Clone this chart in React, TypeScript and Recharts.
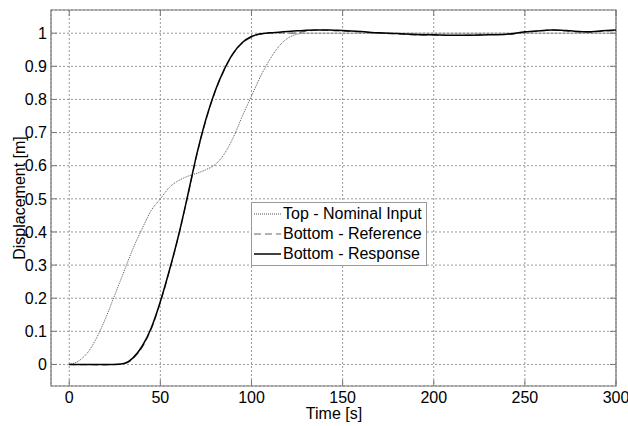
import React from "react";
import {
  LineChart, Line, XAxis, YAxis, CartesianGrid, ReferenceArea,
} from "recharts";

// time axis (s) and displacement (m)
const nominalT = [0, 5, 10, 15, 20, 25, 30, 35, 40, 45, 50, 55, 60, 65, 70, 75, 80, 85, 90, 95, 100, 105, 110, 115, 120, 125, 130, 150, 200, 250, 300];
const nominalY = [0, 0.01, 0.035, 0.08, 0.14, 0.21, 0.28, 0.35, 0.41, 0.465, 0.5, 0.535, 0.555, 0.568, 0.577, 0.588, 0.603, 0.635, 0.685, 0.75, 0.81, 0.87, 0.92, 0.96, 0.985, 0.997, 1, 1, 1, 1, 1];

const responseT = [0, 20, 25, 30, 35, 40, 45, 50, 55, 60, 65, 70, 75, 80, 85, 90, 95, 100, 105, 110, 115, 120, 125, 130, 135, 140, 145, 150, 160, 170, 180, 190, 200, 210, 220, 230, 240, 250, 260, 265, 270, 275, 285, 290, 295, 300];
const responseY = [0, 0, 0, 0.003, 0.02, 0.055, 0.11, 0.19, 0.285, 0.39, 0.51, 0.635, 0.74, 0.825, 0.89, 0.94, 0.972, 0.99, 0.998, 1.001, 1.003, 1.005, 1.007, 1.009, 1.01, 1.01, 1.009, 1.008, 1.005, 1.001, 0.999, 0.996, 0.995, 0.994, 0.994, 0.995, 0.997, 1.004, 1.008, 1.01, 1.009, 1.007, 1.004, 1.006, 1.008, 1.01];
const referenceY = [0, -0.001, 0, 0.002, 0.018, 0.052, 0.107, 0.187, 0.283, 0.388, 0.508, 0.632, 0.738, 0.822, 0.888, 0.938, 0.97, 0.988, 0.997, 1.0, 1.001, 1.0, 1.001, 1.006, 1.009, 1.009, 1.008, 1.006, 1.004, 1.0, 0.998, 0.995, 0.994, 0.993, 0.994, 0.996, 0.996, 1.002, 1.008, 1.01, 1.008, 1.005, 1.003, 1.005, 1.007, 1.008];

const xTicks = [0, 50, 100, 150, 200, 250, 300];
const yTicks = [0, 0.1, 0.2, 0.3, 0.4, 0.5, 0.6, 0.7, 0.8, 0.9, 1];

const nominal = nominalT.map((t, i) => ({ t, y: nominalY[i] }));
const response = responseT.map((t, i) => ({ t, y: responseY[i] }));
const reference = responseT.map((t, i) => ({ t, y: referenceY[i] }));

const FONT = "'Liberation Sans', Arial, sans-serif";
const textStyle = { fontSize: "16px", fontFamily: FONT, fill: "#000" };

// plot box edges, used only for the little inward tick marks
const BOX = { left: 51, right: 616, top: 10, bottom: 386 };
const TICK_LEN = 6;

function XTick({ x, y, payload }: any) {
  return (
    <g>
      <line x1={x} x2={x} y1={BOX.bottom} y2={BOX.bottom - TICK_LEN} stroke="#777" />
      <line x1={x} x2={x} y1={BOX.top} y2={BOX.top + TICK_LEN} stroke="#777" />
      <text x={x} y={y} dy="0.8em" textAnchor="middle" style={textStyle}>{payload.value}</text>
    </g>
  );
}

function YTick({ x, y, payload }: any) {
  return (
    <g>
      <line x1={BOX.left} x2={BOX.left + TICK_LEN} y1={y} y2={y} stroke="#777" />
      <line x1={BOX.right} x2={BOX.right - TICK_LEN} y1={y} y2={y} stroke="#777" />
      <text x={x} y={y} dy="0.36em" textAnchor="end" style={textStyle}>{String(payload.value)}</text>
    </g>
  );
}

const legendItems = [
  { name: "Top - Nominal Input", dash: "1 1", color: "#555", width: 1 },
  { name: "Bottom - Reference", dash: "7 4", color: "#666", width: 1 },
  { name: "Bottom - Response", dash: undefined, color: "#000", width: 1.5 },
];

function LegendBox() {
  return (
    <div style={{
      position: "absolute", left: 251, top: 202,
      width: 176, height: 64, background: "#fff", border: "1px solid #999",
      fontFamily: FONT, fontSize: 16, color: "#000", boxSizing: "border-box", paddingTop: 1,
    }}>
      {legendItems.map((it) => (
        <div key={it.name} style={{ display: "flex", alignItems: "center", height: 20 }}>
          <svg width={31} height={20} style={{ flexShrink: 0 }}>
            <line x1={2} y1={10} x2={29} y2={10} stroke={it.color} strokeWidth={it.width} strokeDasharray={it.dash} />
          </svg>
          <span style={{ whiteSpace: "nowrap" }}>{it.name}</span>
        </div>
      ))}
    </div>
  );
}

export default function App() {
  return (
    <div style={{ position: "absolute", left: 0, top: 0, width: 628, height: 426, background: "#fff" }}>
      <LineChart width={628} height={426} margin={{ top: 10, right: 12, bottom: 0, left: 0 }}>
        <CartesianGrid stroke="#999" strokeDasharray="2 2" />
        <XAxis
          dataKey="t" type="number" domain={[-10, 300]} ticks={xTicks} allowDataOverflow
          height={40} tickLine={false} axisLine={false} tickSize={0} tickMargin={4}
          tick={<XTick />}
          label={{
            content: () => (
              <text x={334} y={419} textAnchor="middle" style={textStyle}>Time [s]</text>
            ),
          }}
        />
        <YAxis
          type="number" domain={[-0.065, 1.07]} ticks={yTicks} allowDataOverflow
          width={51} tickLine={false} axisLine={false} tickSize={0} tickMargin={4}
          tick={<YTick />}
          label={{
            content: () => (
              <text x={25} y={198} transform="rotate(-90, 25, 198)" textAnchor="middle" style={textStyle}>
                Displacement [m]
              </text>
            ),
          }}
        />
        <ReferenceArea x1={-10} x2={300} y1={-0.065} y2={1.07} fill="none" stroke="#777" strokeWidth={1.2} ifOverflow="visible" />
        <Line data={nominal} dataKey="y" type="monotone" stroke="#555" strokeWidth={1} strokeDasharray="1 1" dot={false} isAnimationActive={false} />
        <Line data={reference} dataKey="y" type="monotone" stroke="#666" strokeWidth={1.2} strokeDasharray="7 4" dot={false} isAnimationActive={false} />
        <Line data={response} dataKey="y" type="monotone" stroke="#000" strokeWidth={1.5} dot={false} isAnimationActive={false} />
      </LineChart>
      <LegendBox />
    </div>
  );
}
